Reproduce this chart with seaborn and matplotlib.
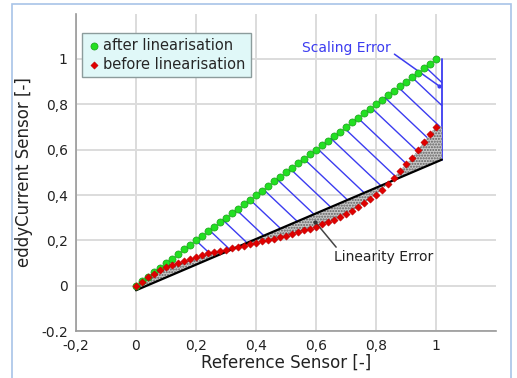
import numpy as np
import matplotlib
matplotlib.use("Agg")
import matplotlib.pyplot as plt
import seaborn as sns
from matplotlib.patches import Rectangle
from matplotlib.ticker import MultipleLocator, FixedLocator, FixedFormatter

# Data
ref_x = [round(i * 0.02, 2) for i in range(51)]
after_y = list(ref_x)  # after linearisation: ideal 1:1
before_y = [0.0, 0.018, 0.037, 0.053, 0.068, 0.082, 0.092, 0.102, 0.109, 0.117,
            0.126, 0.134, 0.143, 0.150, 0.154, 0.159, 0.166, 0.172, 0.177, 0.183,
            0.189, 0.197, 0.204, 0.208, 0.213, 0.220, 0.228, 0.235, 0.244, 0.252,
            0.261, 0.271, 0.280, 0.289, 0.303, 0.316, 0.330, 0.346, 0.363, 0.384,
            0.402, 0.424, 0.450, 0.476, 0.508, 0.535, 0.562, 0.598, 0.635, 0.668,
            0.702]
fit_x = [0.0, 1.02]
fit_y = [-0.02, 0.556]
hatch_start = [0.200, 0.245, 0.290, 0.335, 0.380, 0.425, 0.470, 0.515, 0.560,
               0.605, 0.650, 0.695, 0.740, 0.785, 0.830, 0.875, 0.920, 0.965]
x_ticks = [-0.2, 0, 0.2, 0.4, 0.6, 0.8, 1]
x_labels = ["-0,2", "0", "0,2", "0,4", "0,6", "0,8", "1"]
y_ticks = [-0.2, 0, 0.2, 0.4, 0.6, 0.8, 1]
y_labels = ["-0.2", "0", "0,2", "0,4", "0,6", "0,8", "1"]

sns.set_style("white")
plt.rcParams["font.family"] = ["DejaVu Sans"]

fig = plt.figure(figsize=(5.17, 3.78), dpi=100)
ax = fig.add_axes([0.147, 0.124, 0.812, 0.84])

blue = "#3c3cf0"
slope = -1.25
end_x = fit_x[-1]

# scaling error hatch lines (from ideal line down to the fitted line)
for x0 in hatch_start:
    xs = np.linspace(x0, end_x, 200)
    line_top = x0 + slope * (xs - x0)
    fit_line = np.interp(xs, fit_x, fit_y)
    mask = line_top >= fit_line
    ax.plot(xs[mask], line_top[mask], color=blue, lw=1.0, zorder=2)
ax.plot([end_x, end_x], [1.0, fit_y[-1]], color=blue, lw=1.3, zorder=2)

# linearity error region
fx = np.linspace(0, end_x, 300)
ax.fill_between(fx, np.interp(fx, ref_x, before_y), np.interp(fx, fit_x, fit_y),
                facecolor="#c8c8c8", edgecolor="#606060", hatch="......",
                linewidth=0, zorder=3)

sns.lineplot(x=fit_x, y=fit_y, color="black", lw=1.6, ax=ax, zorder=4)

sns.scatterplot(x=ref_x, y=after_y, color="#22e022", edgecolor="#1aa01a",
                s=26, linewidth=0.5, marker="o", ax=ax, zorder=5,
                label="after linearisation")
sns.scatterplot(x=ref_x, y=before_y, color="#e00000", edgecolor="#b00000",
                s=14, linewidth=0.3, marker="D", ax=ax, zorder=6,
                label="before linearisation")

# annotations
ax.annotate("Scaling Error", xy=(1.012, 0.88), xytext=(0.555, 1.05),
            color=blue, fontsize=10, va="center", ha="left",
            arrowprops=dict(arrowstyle="-", color=blue, lw=1.1,
                            shrinkA=0, shrinkB=0, relpos=(1.0, 0.2)))
ax.plot([1.012], [0.88], "o", color=blue, ms=2, zorder=7)
ax.annotate("Linearity Error", xy=(0.597, 0.283), xytext=(0.66, 0.125),
            color="#222222", fontsize=10, va="center", ha="left",
            arrowprops=dict(arrowstyle="-", color="#444444", lw=1.1,
                            shrinkA=0, shrinkB=0, relpos=(0.05, 1.0)))
ax.plot([0.597], [0.283], "o", color="#333333", ms=2, zorder=7)

ax.set_xlim(-0.2, 1.2)
ax.set_ylim(-0.2, 1.2)
ax.xaxis.set_major_locator(FixedLocator(x_ticks))
ax.xaxis.set_major_formatter(FixedFormatter(x_labels))
ax.yaxis.set_major_locator(FixedLocator(y_ticks))
ax.yaxis.set_major_formatter(FixedFormatter(y_labels))
ax.xaxis.set_minor_locator(MultipleLocator(0.05))
ax.yaxis.set_minor_locator(MultipleLocator(0.05))
ax.tick_params(which="major", length=4, color="#888888", labelsize=10, pad=2,
               labelcolor="#222222")
ax.tick_params(which="minor", length=2.5, color="#888888")

ax.grid(True, which="major", color="#dcdcdc", lw=1.4)
ax.set_axisbelow(True)
sns.despine(ax=ax)
for s in ["left", "bottom"]:
    ax.spines[s].set_color("#999999")
    ax.spines[s].set_linewidth(1.2)

ax.set_xlabel("Reference Sensor [-]", fontsize=12, color="#222222", labelpad=0)
ax.set_ylabel("eddyCurrent Sensor [-]", fontsize=12, color="#222222", labelpad=6)

leg = ax.legend(loc="upper left", bbox_to_anchor=(0.014, 0.94), fontsize=10.5,
                frameon=True, fancybox=False, handletextpad=0.1,
                handlelength=1.0, borderpad=0.35, labelspacing=0.3,
                borderaxespad=0)
leg.get_frame().set_facecolor("#e0f8f8")
leg.get_frame().set_edgecolor("#8c9c9c")
leg.get_frame().set_alpha(1)

# outer light-blue frame
fig.add_artist(Rectangle((12 / 517, -0.02), 499 / 517, 1 - 3.5 / 378 + 0.02,
                         transform=fig.transFigure, fill=False,
                         edgecolor="#a8c4e8", lw=1.2))

fig.savefig("out.png", dpi=100)
